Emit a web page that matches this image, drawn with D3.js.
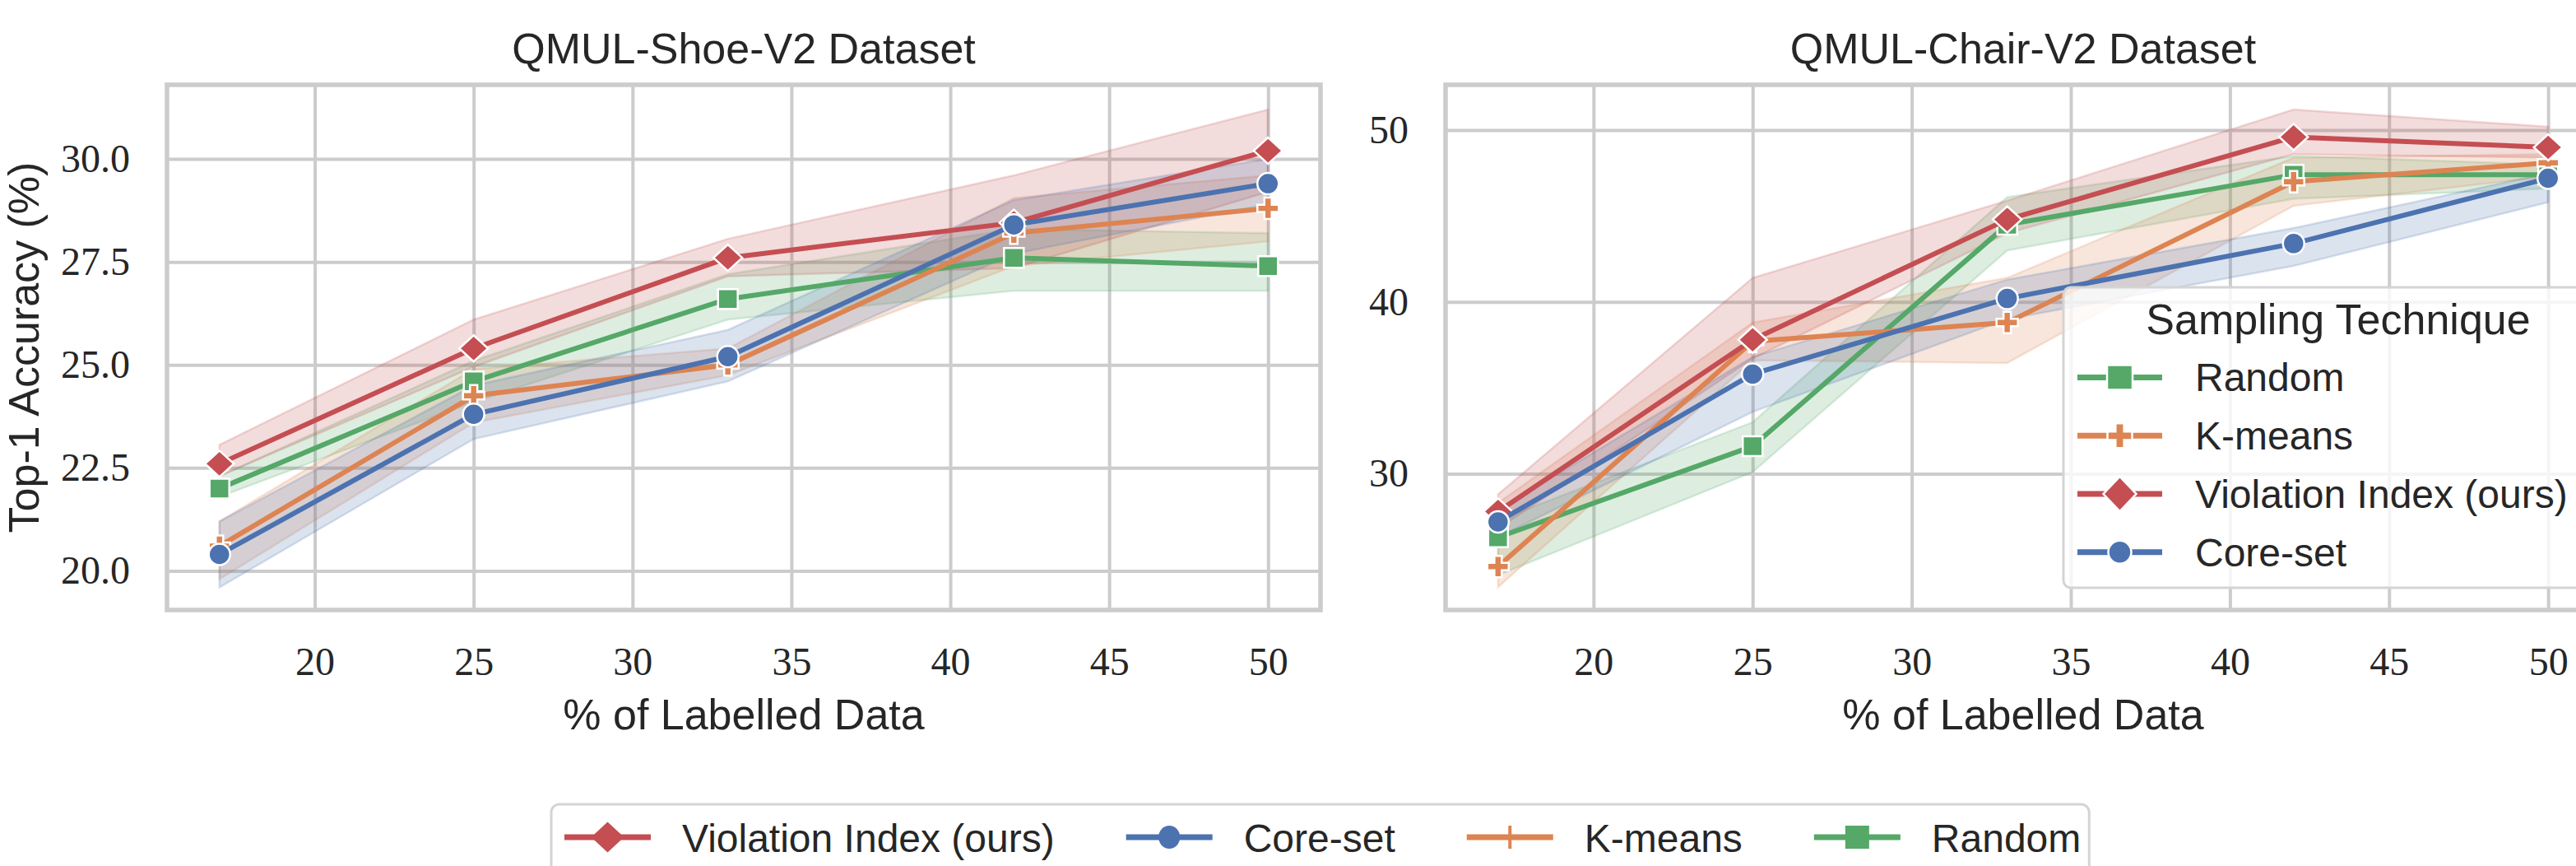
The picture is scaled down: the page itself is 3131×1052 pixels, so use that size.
<!DOCTYPE html>
<html><head><meta charset="utf-8">
<script src="https://cdn.jsdelivr.net/npm/d3@7"></script>
<style>body{margin:0;background:#fff} svg{display:block}</style>
</head><body>
<svg id="chart" width="3131" height="1052"></svg>
<script>
// ---------------- data ----------------
const xValues = [17, 25, 33, 42, 50];
const xTicks = [20, 25, 30, 35, 40, 45, 50];
const seriesNames = ["Random", "K-means", "Violation Index (ours)", "Core-set"];
const seriesColors = ["#55A868", "#DD8452", "#C44E52", "#4C72B0"];
const seriesMarkers = ["square", "plus", "diamond", "circle"];
const panelTitles = ["QMUL-Shoe-V2 Dataset", "QMUL-Chair-V2 Dataset"];
const xLabel = "% of Labelled Data";
const yLabel = "Top-1 Accuracy (%)";
const legendTitle = "Sampling Technique";
const bottomLegendOrder = ["Violation Index (ours)", "Core-set", "K-means", "Random"];

// QMUL-Shoe-V2 (mean, lower band, upper band)
const shoeRandom   = [22.0, 24.6, 26.6, 27.6, 27.4];
const shoeRandomLo = [21.8, 24.1, 26.1, 26.8, 26.8];
const shoeRandomHi = [22.3, 25.1, 27.2, 28.3, 28.2];
const shoeKmeans   = [20.6, 24.25, 25.0, 28.2, 28.8];
const shoeKmeansLo = [19.8, 23.6, 24.75, 27.4, 28.0];
const shoeKmeansHi = [21.2, 24.9, 25.4, 29.05, 29.6];
const shoeVI       = [22.6, 25.4, 27.6, 28.45, 30.2];
const shoeVILo     = [22.3, 24.95, 27.15, 27.35, 29.2];
const shoeVIHi     = [23.06, 26.1, 28.06, 29.6, 31.2];
const shoeCore     = [20.4, 23.8, 25.2, 28.4, 29.4];
const shoeCoreLo   = [19.6, 23.2, 24.6, 27.7, 28.9];
const shoeCoreHi   = [21.2, 24.5, 25.85, 29.0, 30.0];
const shoeTicks    = [20.0, 22.5, 25.0, 27.5, 30.0];

// QMUL-Chair-V2
const chairRandom   = [26.3, 31.6, 44.5, 47.4, 47.4];
const chairRandomLo = [24.1, 30.1, 43.0, 46.0, 46.6];
const chairRandomHi = [27.3, 33.0, 46.1, 48.5, 48.0];
const chairKmeans   = [24.6, 37.7, 38.8, 47.0, 48.1];
const chairKmeansLo = [23.4, 36.6, 36.45, 45.6, 47.3];
const chairKmeansHi = [28.3, 38.8, 41.4, 48.4, 48.6];
const chairVI       = [27.8, 37.8, 44.8, 49.6, 49.0];
const chairVILo     = [26.8, 36.7, 44.0, 48.6, 48.4];
const chairVIHi     = [28.8, 41.4, 45.9, 51.2, 50.2];
const chairCore     = [27.2, 35.8, 40.2, 43.4, 47.2];
const chairCoreLo   = [26.3, 33.6, 39.0, 42.1, 45.8];
const chairCoreHi   = [27.9, 36.8, 41.3, 44.3, 47.5];
const chairTicks    = [30, 40, 50];

// ---------------- layout ----------------
const W = 3131, H = 1052;
const plotTop = 103, plotBottom = 741;
const xDomain = [15.35, 51.65];
const panels = [
  {title: panelTitles[0], left: 203, right: 1605, yDomain: [19.05, 31.8], yTicks: shoeTicks, fmt: d3.format(".1f"),
   means: [shoeRandom, shoeKmeans, shoeVI, shoeCore], lo: [shoeRandomLo, shoeKmeansLo, shoeVILo, shoeCoreLo],
   hi: [shoeRandomHi, shoeKmeansHi, shoeVIHi, shoeCoreHi], ylabel: true, legend: false},
  {title: panelTitles[1], left: 1757, right: 3161, yDomain: [22.07, 52.64], yTicks: chairTicks, fmt: d3.format("d"),
   means: [chairRandom, chairKmeans, chairVI, chairCore], lo: [chairRandomLo, chairKmeansLo, chairVILo, chairCoreLo],
   hi: [chairRandomHi, chairKmeansHi, chairVIHi, chairCoreHi], ylabel: false, legend: true}
];
const SANS = "'Liberation Sans', Arial, Helvetica, sans-serif";
const SERIF = "'Liberation Serif', 'Times New Roman', serif";
const TXT = "#262626";
const GRID = "#cccccc";

function markerPath(type, s) {
  const w = s.w, h = s.h;
  if (type === "square") return `M${-w},${-h}H${w}V${h}H${-w}Z`;
  if (type === "diamond") return `M0,${-h}L${w},0L0,${h}L${-w},0Z`;
  if (type === "circle") return `M${-w},0A${w},${h} 0 1,0 ${w},0A${w},${h} 0 1,0 ${-w},0Z`;
  if (type === "plus") { const t = w / 2.9; return `M${-t},${-h}H${t}V${-t}H${w}V${t}H${t}V${h}H${-t}V${t}H${-w}V${-t}H${-t}Z`; }
  if (type === "thinplus") return `M0,${-h}V${h}M${-w},0H${w}`;
}
const plotMarkerSize = {square: {w: 12, h: 12}, diamond: {w: 17.5, h: 16}, circle: {w: 13, h: 13}, plus: {w: 13, h: 13}};
const legMarkerSize = {square: {w: 15.5, h: 15}, diamond: {w: 20, h: 21}, circle: {w: 14, h: 14}, plus: {w: 15, h: 15}};
const botMarkerSize = {square: {w: 14.5, h: 14}, diamond: {w: 20, h: 18.5}, circle: {w: 13, h: 14}, plus: {w: 12, h: 14}};

const svg = d3.select("#chart");
svg.append("rect").attr("width", W).attr("height", H).attr("fill", "#fff");
const defs = svg.append("defs");

panels.forEach((p, pi) => {
  const x = d3.scaleLinear().domain(xDomain).range([p.left, p.right]);
  const y = d3.scaleLinear().domain(p.yDomain).range([plotBottom, plotTop]);
  const g = svg.append("g");

  defs.append("clipPath").attr("id", "clip" + pi).append("rect")
    .attr("x", p.left).attr("y", plotTop).attr("width", p.right - p.left).attr("height", plotBottom - plotTop);

  const gx = g.append("g").attr("transform", `translate(0,${plotBottom})`)
    .call(d3.axisBottom(x).tickValues(xTicks).tickSize(-(plotBottom - plotTop)).tickPadding(45).tickFormat(d3.format("d")));
  gx.select(".domain").remove();
  gx.selectAll(".tick line").attr("stroke", GRID).attr("stroke-width", 4);
  gx.selectAll(".tick text").attr("font-family", SERIF).attr("font-size", 48).attr("fill", TXT);

  const gy = g.append("g").attr("transform", `translate(${p.left},0)`)
    .call(d3.axisLeft(y).tickValues(p.yTicks).tickSize(-(p.right - p.left)).tickPadding(45).tickFormat(p.fmt));
  gy.select(".domain").remove();
  gy.selectAll(".tick line").attr("stroke", GRID).attr("stroke-width", 4);
  gy.selectAll(".tick text").attr("font-family", SERIF).attr("font-size", 48).attr("fill", TXT);

  const data = g.append("g").attr("clip-path", `url(#clip${pi})`);
  const idx = xValues.map((d, i) => i);

  seriesNames.forEach((name, si) => {
    const area = d3.area().x(i => x(xValues[i])).y0(i => y(p.lo[si][i])).y1(i => y(p.hi[si][i]));
    data.append("path").attr("d", area(idx)).attr("fill", seriesColors[si]).attr("fill-opacity", 0.2)
      .attr("stroke", seriesColors[si]).attr("stroke-opacity", 0.2).attr("stroke-width", 2.5);
  });
  seriesNames.forEach((name, si) => {
    const line = d3.line().x(i => x(xValues[i])).y(i => y(p.means[si][i]));
    data.append("path").attr("d", line(idx)).attr("fill", "none").attr("stroke", seriesColors[si])
      .attr("stroke-width", 6).attr("stroke-linejoin", "round").attr("stroke-linecap", "butt");
    data.selectAll(null).data(idx).enter().append("path")
      .attr("transform", i => `translate(${x(xValues[i])},${y(p.means[si][i])})`)
      .attr("d", markerPath(seriesMarkers[si], plotMarkerSize[seriesMarkers[si]]))
      .attr("fill", seriesColors[si]).attr("stroke", "#fff").attr("stroke-width", 2.5);
  });

  g.append("rect").attr("x", p.left).attr("y", plotTop).attr("width", p.right - p.left).attr("height", plotBottom - plotTop)
    .attr("fill", "none").attr("stroke", GRID).attr("stroke-width", 5.5);

  const cx = (p.left + p.right) / 2;
  g.append("text").attr("x", cx).attr("y", 77).attr("text-anchor", "middle")
    .attr("font-family", SANS).attr("font-size", 52).attr("fill", TXT).text(p.title);
  g.append("text").attr("x", cx).attr("y", 886).attr("text-anchor", "middle")
    .attr("font-family", SANS).attr("font-size", 52).attr("fill", TXT).text(xLabel);
  if (p.ylabel) {
    g.append("text").attr("transform", `translate(47,${(plotTop + plotBottom) / 2}) rotate(-90)`).attr("text-anchor", "middle")
      .attr("font-family", SANS).attr("font-size", 52).attr("fill", TXT).text(yLabel);
  }

  if (p.legend) {
    const lg = g.append("g");
    lg.append("rect").attr("x", 2508).attr("y", 349).attr("width", 700).attr("height", 365).attr("rx", 9)
      .attr("fill", "#fff").attr("fill-opacity", 0.8).attr("stroke", "#d4d4d4").attr("stroke-width", 3);
    lg.append("text").attr("x", 2842).attr("y", 406).attr("text-anchor", "middle")
      .attr("font-family", SANS).attr("font-size", 52).attr("fill", TXT).text(legendTitle);
    seriesNames.forEach((name, si) => {
      const ry = 458.6 + si * 70.7;
      lg.append("line").attr("x1", 2525).attr("x2", 2628).attr("y1", ry).attr("y2", ry)
        .attr("stroke", seriesColors[si]).attr("stroke-width", 7);
      lg.append("path").attr("transform", `translate(2576.5,${ry})`)
        .attr("d", markerPath(seriesMarkers[si], legMarkerSize[seriesMarkers[si]]))
        .attr("fill", seriesColors[si]).attr("stroke", "#fff").attr("stroke-width", 2.5);
      lg.append("text").attr("x", 2668).attr("y", ry).attr("dy", "0.35em")
        .attr("font-family", SANS).attr("font-size", 48).attr("fill", TXT).text(name);
    });
  }
});

const bl = svg.append("g");
const blBox = bl.append("rect").attr("x", 670).attr("y", 977).attr("height", 120).attr("rx", 10)
  .attr("fill", "#fff").attr("stroke", "#d4d4d4").attr("stroke-width", 3);
let bx = 686;
const by = 1017;
bottomLegendOrder.forEach(name => {
  const si = seriesNames.indexOf(name);
  const m = seriesMarkers[si];
  bl.append("line").attr("x1", bx).attr("x2", bx + 105).attr("y1", by).attr("y2", by)
    .attr("stroke", seriesColors[si]).attr("stroke-width", 7);
  if (m === "plus") {
    bl.append("path").attr("transform", `translate(${bx + 52.5},${by})`).attr("d", markerPath("thinplus", botMarkerSize.plus))
      .attr("fill", "none").attr("stroke", seriesColors[si]).attr("stroke-width", 4);
  } else {
    bl.append("path").attr("transform", `translate(${bx + 52.5},${by})`).attr("d", markerPath(m, botMarkerSize[m]))
      .attr("fill", seriesColors[si]);
  }
  const t = bl.append("text").attr("x", bx + 143).attr("y", by).attr("dy", "0.37em")
    .attr("font-family", SANS).attr("font-size", 48).attr("fill", TXT).text(name);
  const tw = t.node().getComputedTextLength();
  bx = bx + 143 + tw + 87;
});
blBox.attr("width", bx - 87 + 10 - 670);
</script>
</body></html>
